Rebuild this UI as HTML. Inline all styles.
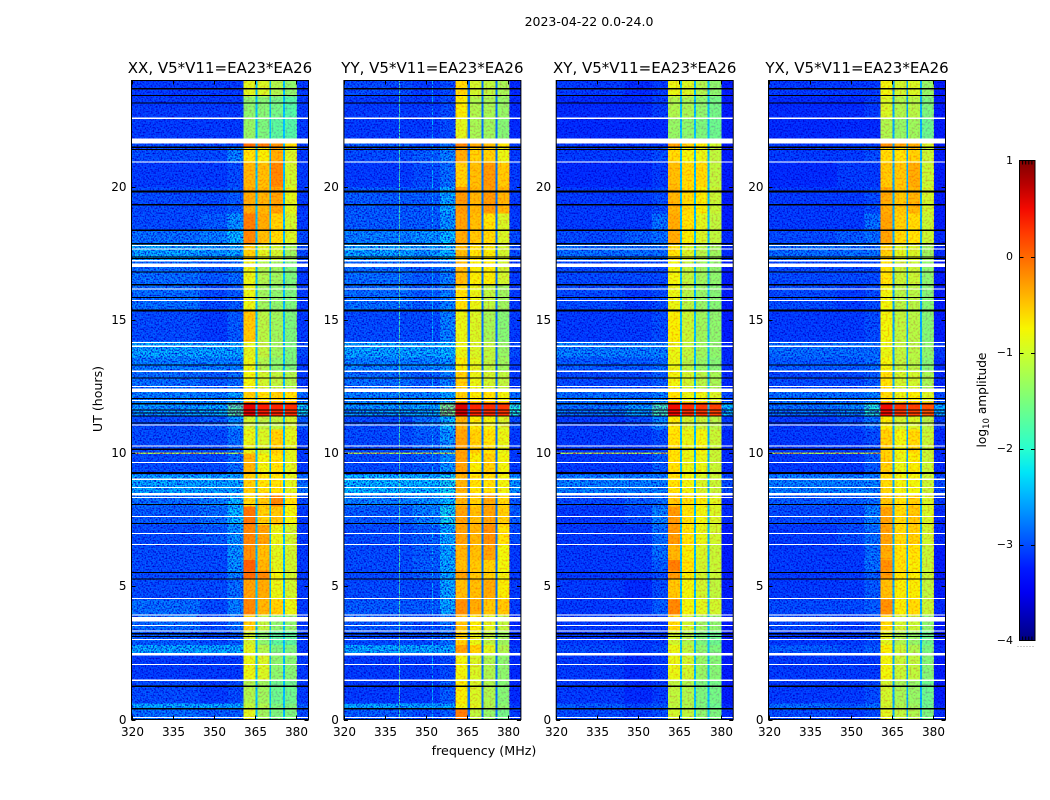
<!DOCTYPE html>
<html lang="en">
<head>
<meta charset="utf-8">
<title>2023-04-22 0.0-24.0</title>
<style>
html,body{margin:0;padding:0;background:#fff;}
#figure{display:block;width:1050px;height:800px;}
text{font-family:"DejaVu Sans","Liberation Sans",sans-serif;fill:#000;}
.tick{font-size:12px;}
.title{font-size:15px;}
.label{font-size:12.7px;}
.noise{mix-blend-mode:multiply;}
</style>
</head>
<body>
<svg id="figure" xmlns="http://www.w3.org/2000/svg" width="1050" height="800" viewBox="0 0 1050 800">
  <defs>
    <filter id="speckle-strong" x="0" y="0" width="100%" height="100%" color-interpolation-filters="sRGB">
      <feTurbulence type="fractalNoise" baseFrequency="0.62" numOctaves="1" seed="7"/>
      <feColorMatrix type="matrix" values="0 0 0 0 1  2.6 0 0 0 -0.6  0.8 0 0 0 0.6  0 0 0 0 1"/>
    </filter>
    <filter id="speckle-soft" x="0" y="0" width="100%" height="100%" color-interpolation-filters="sRGB">
      <feTurbulence type="fractalNoise" baseFrequency="0.5" numOctaves="1" seed="11"/>
      <feColorMatrix type="matrix" values="0 0 0 0 1  0.8 0 0 0 0.55  0 0 0 0 1  0 0 0 0 1"/>
    </filter>
    <linearGradient id="jet-gradient" x1="0" y1="1" x2="0" y2="0"></linearGradient>
  </defs>
  <text x="589" y="26" text-anchor="middle" style="font-size:12.5px">2023-04-22 0.0-24.0</text>
  <text x="484" y="755" text-anchor="middle" class="label">frequency (MHz)</text>
  <text x="102" y="399" text-anchor="middle" class="label" transform="rotate(-90 102 399)" style="font-size:12.6px">UT (hours)</text>
  <text x="986" y="400" text-anchor="middle" class="label" transform="rotate(-90 986 400)" style="font-size:12.2px">log<tspan font-size="8.5" dy="3">10</tspan><tspan dy="-3"> amplitude</tspan></text>
  <g id="panels"></g>
  <g id="colorbar"></g>
</svg>
<script>
// ---- chart data ----
const panelTitles = ["XX, V5*V11=EA23*EA26", "YY, V5*V11=EA23*EA26", "XY, V5*V11=EA23*EA26", "YX, V5*V11=EA23*EA26"];
const xTickLabels = [320, 335, 350, 365, 380];
const yTickLabels = [0, 5, 10, 15, 20];
const colorTickLabels = [1, 0, -1, -2, -3, -4];
// time-row edges, hours
const hourEdges = [0,.4,.6,1.5,2.5,2.8,3.3,3.9,4.5,5.3,5.6,6,6.6,7.3,8,8.5,9.2,10,10.9,11.4,11.9,12.3,13.1,13.6,14.2,15.4,16.3,17.2,17.9,18.4,19,20,20.9,21.5,21.8,22.6,23.4,24];
// frequency columns, MHz
const columnEdges = [[320,345],[345,355],[355,360.8],[360.8,365.2],[366,370.3],[371,375.3],[376,380.4],[380.4,384.6]];
const gapEdges = [[365.2,366],[370.3,371],[375.3,376]];
const gapLevels = [-2.4,-2.8,-2.4,-2.5];
// log10 amplitude per time row, one value per frequency column
const xxLevels = [
[-2.7,-2.8,-2.8,-0.9,-1.3,-1.5,-1.5,-2.9],[-2.4,-2.4,-2.4,-1.1,-1.2,-1.5,-1.5,-2.8],[-2.9,-3,-2.9,-1.2,-1.3,-1.6,-1.6,-3],[-3,-3,-3,-0.85,-0.95,-1.4,-1.45,-3],
[-2.4,-2.4,-2.4,-0.9,-1.2,-1.5,-1.5,-3],[-2.8,-2.9,-2.8,-1,-1.4,-1.7,-1.7,-3],[-2.7,-2.9,-2.7,-0.6,-1.1,-1.4,-1.4,-3],[-2.7,-2.9,-2.6,-0.2,-0.45,-0.6,-0.85,-3],
[-2.9,-2.9,-2.7,-0.35,-0.4,-0.85,-1,-3],[-2.9,-2.9,-2.6,-0.05,-0.2,-0.8,-1,-3],[-2.9,-2.9,-2.5,0.02,-0.45,-0.9,-1,-3],[-2.9,-2.9,-2.5,-0.25,-0.5,-0.9,-1,-3],
[-2.9,-2.8,-2.5,-0.2,-0.35,-0.85,-1,-3],[-2.8,-2.7,-2.3,-0.1,-0.6,-0.55,-0.8,-3],[-2.7,-2.6,-2.3,-0.65,-0.55,-0.2,-0.7,-2.9],[-2.4,-2.4,-2.4,-0.6,-0.7,-0.7,-0.9,-2.7],
[-2.9,-2.9,-2.7,-0.45,-0.8,-0.7,-0.9,-3],[-2.9,-2.9,-2.7,-0.85,-0.95,-0.6,-0.9,-3],[-2.9,-2.8,-2.5,-1,-1.1,-1.1,-1,-2.8],[-2.5,-2.4,-1.8,0.55,0.4,0.35,0.3,-2.2],
[-2.6,-2.6,-2.4,-0.6,-0.7,-0.6,-0.7,-2.7],[-2.7,-2.8,-2.7,-0.8,-1,-1.1,-1.2,-3],[-2.6,-2.6,-2.6,-0.85,-1.2,-1.4,-1.5,-3],[-2.4,-2.4,-2.4,-0.9,-1.1,-1.3,-1.5,-2.9],
[-2.9,-3,-2.8,-0.55,-1.15,-1.3,-1.5,-3],[-2.7,-2.9,-2.8,-0.85,-1.3,-1.4,-1.5,-3],[-2.7,-2.8,-2.7,-0.85,-1.2,-1.3,-1.5,-3],[-2.4,-2.5,-2.4,-0.6,-0.9,-1,-1.3,-2.9],
[-2.7,-2.6,-2.3,-0.2,-0.5,-0.65,-0.95,-2.9],[-2.9,-2.8,-2.5,-0.15,-0.4,-0.6,-1,-3],[-2.9,-2.9,-2.8,-0.4,-0.45,-0.35,-0.9,-3],[-3,-3,-2.9,-0.45,-0.5,-0.2,-1,-3],
[-2.9,-2.9,-2.6,-0.7,-0.75,-0.4,-0.95,-3],[-2.9,-2.9,-2.9,-0.05,-0.15,-0.25,-0.65,-3],[-3,-3,-3,-1.35,-1.5,-1.7,-1.75,-3],[-3,-3,-3,-1.4,-1.45,-1.55,-1.75,-3],[-3,-3,-3,-0.9,-0.95,-1.2,-1.4,-3]
];
const yyLevels = [
[-2.8,-2.9,-2.8,-0.15,-1.1,-1.35,-1.55,-3],[-2.4,-2.4,-2.4,-0.8,-0.9,-1.2,-1.4,-3],[-3,-3,-2.8,-0.75,-0.95,-1.2,-1.45,-3.1],[-3,-3,-2.9,-0.8,-0.95,-1.2,-1.4,-3.1],
[-2.4,-2.4,-2.4,-0.35,-0.6,-0.9,-1.2,-3],[-2.9,-2.9,-2.7,-0.6,-0.85,-1.1,-1.3,-3.1],[-2.8,-2.9,-2.7,-0.55,-0.75,-0.9,-1.1,-3.1],[-2.8,-2.8,-2.4,-0.25,-0.4,-0.55,-0.55,-3],
[-2.9,-2.9,-2.4,-0.5,-0.5,-0.4,-0.75,-3],[-2.9,-2.8,-2.4,-0.35,-0.55,-0.6,-0.8,-3],[-2.9,-2.8,-2.4,-0.5,-0.55,-0.6,-0.8,-3],[-2.9,-2.8,-2.4,-0.45,-0.5,-0.35,-0.8,-3],
[-2.9,-2.8,-2.4,-0.35,-0.45,-0.25,-0.7,-2.9],[-2.8,-2.6,-2.2,-0.35,-0.5,-0.35,-0.6,-2.8],[-2.6,-2.5,-2.3,-0.45,-0.6,-0.4,-0.65,-2.8],[-2.3,-2.3,-2.2,-0.45,-0.7,-0.7,-0.8,-2.5],
[-2.9,-2.8,-2.5,-0.35,-0.75,-0.6,-0.8,-3],[-2.9,-2.8,-2.5,-0.35,-0.6,-0.7,-0.85,-3],[-2.9,-2.7,-2.3,-0.45,-0.75,-0.8,-0.95,-2.9],[-2.5,-2.4,-1.6,0.6,0.35,0.3,0.25,-2.1],
[-2.6,-2.6,-2.4,-0.6,-0.75,-0.7,-0.8,-2.7],[-2.7,-2.8,-2.6,-0.6,-0.85,-1,-1.1,-3],[-2.6,-2.6,-2.5,-0.75,-0.9,-1.1,-1.3,-3],[-2.4,-2.4,-2.3,-0.85,-0.95,-1.1,-1.35,-2.9],
[-2.9,-2.9,-2.6,-0.85,-0.95,-1.25,-1.45,-3],[-2.7,-2.8,-2.6,-0.7,-0.85,-1.1,-1.3,-3],[-2.7,-2.8,-2.6,-0.5,-0.75,-0.75,-1,-3],[-2.4,-2.5,-2.3,-0.5,-0.7,-0.75,-1,-2.9],
[-2.6,-2.5,-2.3,-0.4,-0.55,-0.65,-0.95,-2.9],[-2.8,-2.8,-2.5,-0.35,-0.5,-0.7,-0.95,-3],[-2.8,-2.8,-2.4,-0.3,-0.45,-0.3,-0.45,-3],[-3,-2.9,-2.7,-0.6,-0.5,-0.3,-0.55,-3],
[-2.9,-2.8,-2.6,-0.4,-0.6,-0.6,-0.85,-3],[-2.8,-2.9,-2.7,-0.2,-0.4,-0.5,-0.7,-3],[-3,-3,-2.9,-0.9,-1.25,-1.3,-1.45,-3.1],[-3,-3,-2.9,-0.75,-1.2,-1.25,-1.35,-3.1],[-2.9,-3,-2.9,-0.65,-1,-1.1,-1.25,-3.1]
];
const xyLevels = [
[-2.9,-3,-2.9,-1,-1.1,-1.4,-1.5,-3.1],[-2.8,-2.9,-2.8,-1.1,-1.2,-1.5,-1.6,-3.1],[-3,-3.1,-3,-1.1,-1.2,-1.5,-1.55,-3.2],[-3,-3.1,-3,-0.85,-1,-1.35,-1.45,-3.2],
[-2.9,-3,-2.9,-0.85,-1.1,-1.4,-1.5,-3.2],[-3,-3,-3,-1,-1.2,-1.5,-1.6,-3.2],[-3,-3,-3,-0.65,-1,-1.3,-1.4,-3.2],[-3,-3,-2.8,-0.2,-0.8,-0.9,-1,-3.1],
[-3,-3.1,-2.9,-0.55,-0.8,-1,-1.1,-3.2],[-3,-3,-2.9,-0.3,-0.75,-1,-1.05,-3.2],[-3,-3,-2.8,-0.15,-0.7,-1,-1.05,-3.2],[-3,-3,-2.7,-0.45,-0.75,-0.95,-1.05,-3.2],
[-3,-3,-2.7,-0.3,-0.7,-0.85,-1,-3.2],[-3,-2.9,-2.6,-0.3,-0.7,-0.8,-0.95,-3.1],[-2.9,-2.8,-2.7,-0.55,-0.7,-0.75,-0.9,-3.1],[-2.6,-2.6,-2.6,-0.7,-0.8,-0.95,-1.05,-2.9],
[-3,-3,-2.8,-0.7,-0.85,-0.85,-1.05,-3.1],[-3,-3,-2.9,-0.7,-0.85,-0.8,-1.05,-3.1],[-3,-2.9,-2.6,-0.75,-1,-1.05,-1.15,-3],[-2.7,-2.5,-1.9,0.5,0.3,0.25,0.2,-2.3],
[-2.7,-2.7,-2.6,-0.7,-0.85,-0.85,-0.95,-2.9],[-2.9,-2.9,-2.8,-0.8,-1,-1.15,-1.25,-3.1],[-2.8,-2.8,-2.7,-0.85,-1.15,-1.35,-1.45,-3.1],[-2.6,-2.6,-2.6,-0.85,-1.1,-1.3,-1.4,-3.1],
[-3,-3,-2.9,-0.75,-1.05,-1.3,-1.4,-3.2],[-2.9,-3,-2.9,-0.85,-1.15,-1.35,-1.45,-3.2],[-2.9,-2.9,-2.9,-0.8,-1.1,-1.3,-1.4,-3.2],[-2.7,-2.7,-2.7,-0.7,-0.95,-1.15,-1.3,-3.1],
[-2.9,-2.8,-2.7,-0.4,-0.75,-0.95,-1.1,-3.1],[-3,-3,-2.7,-0.4,-0.7,-0.9,-1.1,-3.2],[-3,-3,-2.9,-0.45,-0.65,-0.75,-1.05,-3.2],[-3.1,-3.1,-3,-0.5,-0.65,-0.65,-1.1,-3.2],
[-3,-3,-2.9,-0.65,-0.8,-0.85,-1.1,-3.2],[-3,-3,-3,-0.35,-0.6,-0.75,-1,-3.2],[-3.1,-3.1,-3.1,-1.35,-1.4,-1.5,-1.6,-3.2],[-3.1,-3.1,-3,-1.2,-1.25,-1.4,-1.55,-3.2],[-3,-3.1,-3,-0.85,-0.95,-1.2,-1.4,-3.2]
];
const yxLevels = [
[-2.9,-3,-2.9,-0.9,-1.1,-1.2,-1.5,-3.1],[-2.7,-2.8,-2.7,-1,-1.2,-1.3,-1.6,-3.1],[-3,-3,-2.9,-1,-1.25,-1.35,-1.6,-3.2],[-3,-3,-3,-0.8,-1.05,-1.1,-1.45,-3.2],
[-2.8,-2.9,-2.8,-0.75,-1.05,-1.2,-1.5,-3.1],[-3,-3,-2.9,-0.9,-1.2,-1.35,-1.6,-3.2],[-2.9,-3,-2.9,-0.65,-1,-1.05,-1.4,-3.2],[-2.9,-2.9,-2.8,-0.25,-0.75,-0.65,-1.05,-3.1],
[-3,-3,-2.8,-0.5,-0.75,-0.75,-1.1,-3.2],[-3,-3,-2.8,-0.3,-0.7,-0.75,-1.05,-3.2],[-3,-3,-2.7,-0.25,-0.7,-0.75,-1.05,-3.2],[-3,-3,-2.7,-0.4,-0.7,-0.7,-1.05,-3.2],
[-3,-2.9,-2.7,-0.35,-0.65,-0.6,-1,-3.1],[-2.9,-2.9,-2.6,-0.35,-0.65,-0.55,-0.95,-3.1],[-2.8,-2.8,-2.7,-0.55,-0.7,-0.6,-0.95,-3],[-2.6,-2.6,-2.6,-0.65,-0.8,-0.8,-1.05,-2.9],
[-3,-3,-2.8,-0.6,-0.85,-0.75,-1.05,-3.1],[-3,-3,-2.9,-0.6,-0.8,-0.65,-1.05,-3.1],[-3,-2.9,-2.7,-0.75,-1,-0.95,-1.15,-3],[-2.7,-2.6,-2.1,0.5,0.25,0.2,0.1,-2.4],
[-2.7,-2.7,-2.6,-0.65,-0.85,-0.75,-0.95,-2.9],[-2.9,-2.9,-2.8,-0.7,-1,-1,-1.25,-3.1],[-2.8,-2.8,-2.7,-0.8,-1.1,-1.15,-1.45,-3.1],[-2.7,-2.7,-2.7,-0.85,-1.1,-1.15,-1.4,-3],
[-3,-3,-2.9,-0.8,-1.1,-1.15,-1.45,-3.2],[-2.9,-3,-2.9,-0.8,-1.15,-1.15,-1.45,-3.2],[-2.9,-2.9,-2.9,-0.7,-1.05,-1.05,-1.4,-3.2],[-2.7,-2.7,-2.7,-0.6,-0.9,-0.95,-1.3,-3.1],
[-2.9,-2.8,-2.7,-0.35,-0.65,-0.7,-1.05,-3.1],[-3,-3,-2.7,-0.35,-0.6,-0.65,-1.05,-3.2],[-3,-3,-2.9,-0.4,-0.55,-0.45,-1,-3.2],[-3.1,-3,-3,-0.55,-0.55,-0.4,-1.05,-3.2],
[-3,-3,-2.9,-0.65,-0.7,-0.6,-1.05,-3.2],[-3,-3,-3,-0.25,-0.4,-0.4,-0.95,-3.2],[-3.1,-3.1,-3.1,-1.2,-1.35,-1.3,-1.6,-3.2],[-3.1,-3.1,-3,-0.95,-1.2,-1.15,-1.5,-3.2],[-3,-3,-3,-0.8,-1,-0.95,-1.35,-3.2]
];
// flagged time ranges, hours [start, end]
const whiteFlags = [[22.55,22.61],[21.63,21.82],[20.92,20.96],[17.79,17.83],[17.65,17.69],[17.21,17.26],[16.99,17.13],[16.15,16.19],[15.71,15.75],[14.14,14.18],[14,14.04],[13.06,13.1],[12.48,12.52],[12.3,12.43],[11.96,12],[11.04,11.08],[10.26,10.3],[9.64,9.68],[9,9.06],[8.7,8.74],[8.41,8.51],[8.31,8.35],[7.61,7.65],[6.97,7.01],[6.55,6.59],[4.52,4.56],[3.9,3.94],[3.69,3.85],[3.51,3.55],[3.3,3.34],[2.99,3.03],[2.4,2.49],[2.04,2.08],[1.44,1.5],[0.06,0.1]];
const blackFlags = [[23.67,23.71],[23.41,23.45],[23.14,23.18],[21.46,21.52],[21.39,21.43],[19.8,19.86],[19.31,19.37],[18.34,18.4],[17.84,17.9],[17.35,17.39],[17.29,17.33],[16.78,16.82],[16.3,16.36],[15.83,15.87],[15.33,15.39],[13.3,13.34],[12.8,12.84],[12.04,12.08],[11.84,11.88],[11.61,11.65],[11.49,11.53],[11.38,11.42],[11.12,11.16],[10.13,10.17],[9.22,9.29],[8.06,8.1],[7.34,7.38],[5.5,5.54],[5.25,5.29],[3.2,3.24],[3.09,3.13],[1.23,1.27],[0.38,0.44]];
// narrow interference features
const yyRfiFreqs = [340.2, 352.2];
const yyRfiLevels = [-1.9, -2.4];
const rfiRowHours = [10.0];
const rfiRowLevels = [-1.3];

const levelsByPanel = [xxLevels, yyLevels, xyLevels, yxLevels];

// ---- layout ----
const SVG_NS = "http://www.w3.org/2000/svg";
const plotWidth = 177, plotTop = 80.5, plotBottom = 719.5;
const panelLefts = [131.5, 343.9, 556.2, 768.5];
const xMin = 320, xMax = 384.6, yMin = 0, yMax = 24;
const cbLeft = 1019.5, cbRight = 1035, cbTop = 160.5, cbBottom = 640.5, cMin = -4, cMax = 1;
const bandStart = 360.8, bandEnd = 380.4;

function xScale(p, mhz) { return panelLefts[p] + (mhz - xMin) / (xMax - xMin) * plotWidth; }
function yScale(hour) { return plotBottom - (hour - yMin) / (yMax - yMin) * (plotBottom - plotTop); }
function cScale(v) { return cbBottom - (v - cMin) / (cMax - cMin) * (cbBottom - cbTop); }

function jet(t) {
  t = Math.max(0, Math.min(1, t));
  const ramp = (pts) => {
    for (let i = 1; i < pts.length; i++) {
      if (t <= pts[i][0]) {
        const a = pts[i - 1], b = pts[i];
        return a[1] + (b[1] - a[1]) * (t - a[0]) / (b[0] - a[0]);
      }
    }
    return pts[pts.length - 1][1];
  };
  const r = ramp([[0,0],[0.35,0],[0.66,1],[0.89,1],[1,0.5]]);
  const g = ramp([[0,0],[0.125,0],[0.375,1],[0.64,1],[0.91,0],[1,0]]);
  const b = ramp([[0,0.5],[0.11,1],[0.34,1],[0.65,0],[1,0]]);
  return "rgb(" + Math.round(r * 255) + "," + Math.round(g * 255) + "," + Math.round(b * 255) + ")";
}
function levelColor(v) { return jet((v - cMin) / (cMax - cMin)); }

function make(tag, parent, attrs) {
  const node = document.createElementNS(SVG_NS, tag);
  for (const k in attrs) node.setAttribute(k, attrs[k]);
  parent.appendChild(node);
  return node;
}
function band(parent, x0, x1, y0, y1, fill) {
  return make("rect", parent, { x: x0, y: y1, width: x1 - x0, height: y0 - y1, fill: fill, "shape-rendering": "crispEdges" });
}

// ---- panels ----
const panelsRoot = document.getElementById("panels");
panelTitles.forEach(function (title, p) {
  const g = make("g", panelsRoot, {});
  
  
  const levels = levelsByPanel[p];

  levels.forEach(function (row, r) {
    const y0 = yScale(hourEdges[r]), y1 = yScale(hourEdges[r + 1]);
    row.forEach(function (v, c) {
      const cell = band(g, xScale(p, columnEdges[c][0]), xScale(p, columnEdges[c][1]), y0, y1, levelColor(v));
      
      
    });
    gapEdges.forEach(function (gap) {
      const cell = band(g, xScale(p, gap[0]), xScale(p, gap[1]), y0, y1, levelColor(gapLevels[p]));
      
      
    });
  });

  rfiRowHours.forEach(function (h, i) {
    const line = band(g, xScale(p, 320), xScale(p, bandStart), yScale(h) + 0.6, yScale(h) - 0.6, levelColor(rfiRowLevels[i]));
    
    
  });
  if (p === 1) {
    yyRfiFreqs.forEach(function (f, i) {
      const line = band(g, xScale(p, f), xScale(p, f) + 1, plotBottom, plotTop, levelColor(yyRfiLevels[i]));
      
      
    });
  }

  const plotH = plotBottom - plotTop;
  const noiseLeft = make("rect", g, { x: panelLefts[p], y: plotTop, width: xScale(p, bandStart) - panelLefts[p], height: plotH, filter: "url(#speckle-strong)", class: "noise" });
  
  
  const noiseBand = make("rect", g, { x: xScale(p, bandStart), y: plotTop, width: xScale(p, bandEnd) - xScale(p, bandStart), height: plotH, filter: "url(#speckle-soft)", class: "noise" });
  
  
  const noiseRight = make("rect", g, { x: xScale(p, bandEnd), y: plotTop, width: xScale(p, xMax) - xScale(p, bandEnd), height: plotH, filter: "url(#speckle-strong)", class: "noise" });
  
  

  whiteFlags.forEach(function (f) {
    const flag = band(g, panelLefts[p], panelLefts[p] + plotWidth, yScale(f[0]), yScale(f[1]), "#fff");
    
    
  });
  blackFlags.forEach(function (f) {
    const flag = band(g, panelLefts[p], panelLefts[p] + plotWidth, yScale(f[0]), yScale(f[1]), "#000");
    
    
  });

  const frame = make("rect", g, { x: panelLefts[p], y: plotTop, width: plotWidth, height: plotBottom - plotTop, fill: "none", stroke: "#000", "stroke-width": 1 });
  
  

  xTickLabels.forEach(function (t) {
    const x = Math.round(xScale(p, t)) + 0.5;
    const tb = make("line", g, { x1: x, x2: x, y1: plotBottom, y2: plotBottom - 4, stroke: "#000" });
    
    
    const tt = make("line", g, { x1: x, x2: x, y1: plotTop, y2: plotTop + 4, stroke: "#000" });
    
    
    const label = make("text", g, { x: x, y: 736, "text-anchor": "middle", class: "tick" });
    label.textContent = String(t);
    
    
  });
  yTickLabels.forEach(function (t) {
    const y = Math.round(yScale(t)) + 0.5;
    const tl = make("line", g, { x1: panelLefts[p], x2: panelLefts[p] + 4, y1: y, y2: y, stroke: "#000" });
    
    
    const tr = make("line", g, { x1: panelLefts[p] + plotWidth, x2: panelLefts[p] + plotWidth - 4, y1: y, y2: y, stroke: "#000" });
    
    
    const label = make("text", g, { x: panelLefts[p] - 5, y: y + 3.5, "text-anchor": "end", class: "tick" });
    label.textContent = String(t);
    
    
  });

  const titleNode = make("text", g, { x: panelLefts[p] + plotWidth / 2, y: 73, "text-anchor": "middle", class: "title" });
  titleNode.textContent = title;
  
  
});

// ---- colorbar ----
const gradient = document.getElementById("jet-gradient");
[0,.05,.1,.15,.2,.25,.3,.35,.4,.45,.5,.55,.6,.65,.7,.75,.8,.85,.9,.95,1].forEach(function (t) {
  make("stop", gradient, { offset: t, "stop-color": jet(t) });
});
const cbRoot = document.getElementById("colorbar");
const cbBar = make("rect", cbRoot, { x: cbLeft, y: cbTop, width: cbRight - cbLeft, height: cbBottom - cbTop, fill: "url(#jet-gradient)", stroke: "#000", "stroke-width": 1 });



colorTickLabels.forEach(function (t) {
  const y = Math.round(cScale(t)) + 0.5;
  if (t !== cMin && t !== cMax) {
    const left = make("line", cbRoot, { x1: cbLeft, x2: cbLeft + 4, y1: y, y2: y, stroke: "#000" });
    
    
    const right = make("line", cbRoot, { x1: cbRight, x2: cbRight - 4, y1: y, y2: y, stroke: "#000" });
    
    
  }
  const label = make("text", cbRoot, { x: 1013, y: y + 2.5, "text-anchor": "end", class: "tick", style: "font-size:11px" });
  label.textContent = String(t).replace("-", "\u2212");
  
  
});
[1,2,3,4].forEach(function (n) {
  const x = cbLeft + n * 3.1;
  const top = make("line", cbRoot, { x1: x, x2: x, y1: cbTop, y2: cbTop + 4, stroke: "#000" });
  
  
  const bottom = make("line", cbRoot, { x1: x, x2: x, y1: cbBottom, y2: cbBottom - 4, stroke: "#000" });
  
  
});
const dots = make("line", cbRoot, { x1: 1017.5, x2: 1035, y1: 646.5, y2: 646.5, stroke: "#999", "stroke-dasharray": "1 2" });


</script>
</body>
</html>
